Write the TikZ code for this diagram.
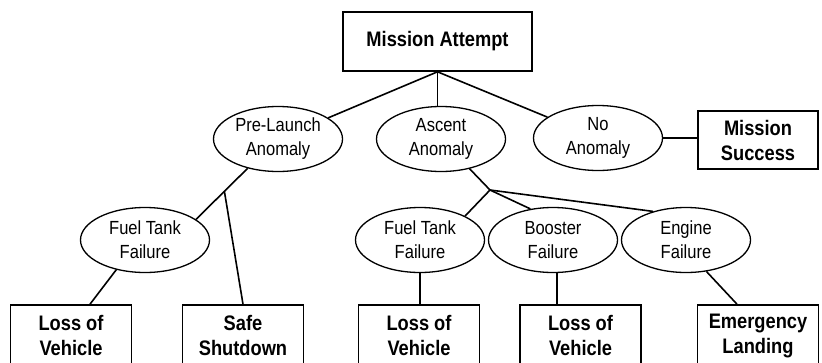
\documentclass[tikz,border=0pt]{standalone}
\usepackage{fontspec}
\setmainfont[FakeStretch=0.87]{Liberation Sans}
\usetikzlibrary{shapes.geometric,calc}
\begin{document}
\begin{tikzpicture}[x=1pt,y=-1pt,
  box/.style={draw, line width=1.6pt, rectangle, inner sep=0pt, align=center, font=\fontsize{21}{25}\selectfont\bfseries},
  botbox/.style={box, minimum width=121pt, minimum height=61pt},
  ell/.style={draw, line width=1.3pt, ellipse, inner sep=0pt, minimum width=129pt, minimum height=65pt, align=center, font=\fontsize{19}{24}\selectfont},
  conn/.style={line width=1.6pt}]
\useasboundingbox (0,0) rectangle (822,362);
\clip (0,0) rectangle (822,362);
% top
\node[box, minimum width=189pt, minimum height=59pt] (ma) at (437.5,41.5) {Mission Attempt};
% first level
\node[ell] (pre) at (278,139) {Pre-Launch\\Anomaly};
\node[ell] (asc) at (441,139) {Ascent\\Anomaly};
\node[ell] (no) at (598,138) {No\\Anomaly};
\node[box, minimum width=120pt, minimum height=58pt] (ms) at (758,140) {Mission\\Success};
% second level
\node[ell] (ft1) at (145,240) {Fuel Tank\\Failure};
\node[ell] (ft2) at (420,240) {Fuel Tank\\Failure};
\node[ell] (bo) at (553,240) {Booster\\Failure};
\node[ell] (en) at (686,240) {Engine\\Failure};
% outcomes
\node[botbox] (b1) at (71,335.5) {Loss of\\Vehicle};
\node[botbox] (b2) at (243,335.5) {Safe\\Shutdown};
\node[botbox] (b3) at (419,335.5) {Loss of\\Vehicle};
\node[botbox] (b4) at (580.5,335.5) {Loss of\\Vehicle};
\node[botbox] (b5) at (758,335.5) {Emergency\\Landing};
% junctions
\coordinate (j1) at ($(pre.224)!0.45!(ft1.22)$);
\coordinate (j2) at (490,190);
\coordinate (bt) at ($(bo.south)+(4,0)$);
% connectors
\draw[conn] (ma.south) -- (pre);
\draw[conn] (ma.south) -- (ma.south |- asc.north);
\draw[conn] (ma.south) -- (no);
\draw[conn] (no.east) -- (no.east -| ms.west);
\draw[conn] (pre.224) -- (ft1.22);
\draw[conn] (j1) -- (b2.north);
\draw[conn] (ft1.226) -- ($(b1.north)+(19,0)$);
\draw[conn] (j2) -- (asc);
\draw[conn] (j2) -- (ft2.28);
\draw[conn] (j2) -- (bo.126);
\draw[conn] (j2) -- (en.139);
\draw[conn] (ft2.south) -- (ft2.south |- b3.north);
\draw[conn] (bt) -- (bt |- b4.north);
\draw[conn] (en.303) -- ($(b5.north)+(-21,0)$);
\end{tikzpicture}
\end{document}
